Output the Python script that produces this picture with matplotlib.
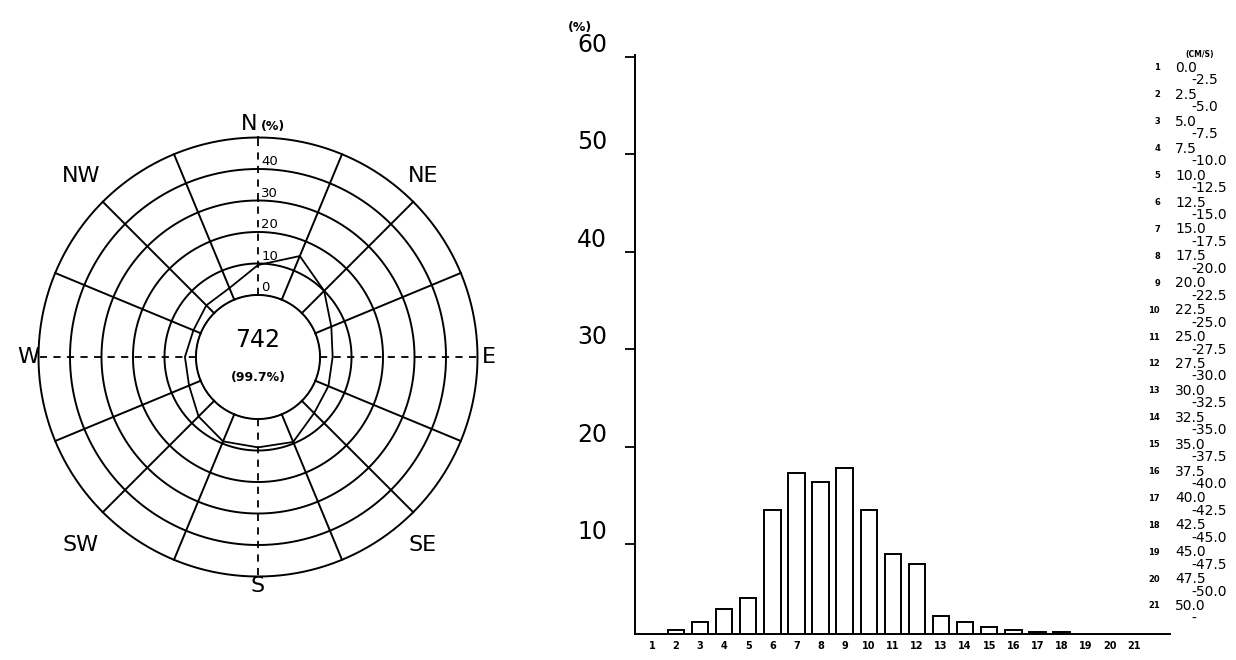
import numpy as np
import matplotlib
matplotlib.use("Agg")
import matplotlib.pyplot as plt

# ---------------- data ----------------
directions = ['N', 'NNE', 'NE', 'ENE', 'E', 'ESE', 'SE', 'SSE',
              'S', 'SSW', 'SW', 'WSW', 'W', 'WNW', 'NW', 'NNW']
dir_freq = [9.5, 15.0, 10.0, 5.5, 4.0, 4.5, 5.5, 9.5,
            9.0, 9.3, 7.0, 4.0, 3.5, 2.5, 3.5, 4.0]
ring_values = [0, 10, 20, 30, 40, 50]
ring_labels = ['0', '10', '20', '30', '40']
compass_labels = ['N', 'NE', 'E', 'SE', 'S', 'SW', 'W', 'NW']
total_count = '742'
valid_rate = '(99.7%)'

speed_classes = list(range(1, 22))
speed_freq = [0.0, 1.2, 2.0, 3.4, 4.5, 13.5, 17.3, 16.4, 17.8, 13.5, 9.0,
              8.0, 2.6, 2.0, 1.5, 1.2, 1.0, 1.0, 0.0, 0.0, 0.0]
y_ticks = [10, 20, 30, 40, 50, 60]
class_lower = ['0.0', '2.5', '5.0', '7.5', '10.0', '12.5', '15.0', '17.5',
               '20.0', '22.5', '25.0', '27.5', '30.0', '32.5', '35.0',
               '37.5', '40.0', '42.5', '45.0', '47.5', '50.0']
class_upper = ['-2.5', '-5.0', '-7.5', '-10.0', '-12.5', '-15.0', '-17.5',
               '-20.0', '-22.5', '-25.0', '-27.5', '-30.0', '-32.5', '-35.0',
               '-37.5', '-40.0', '-42.5', '-45.0', '-47.5', '-50.0', '-']
unit_label = '(CM/S)'
pct_label = '(%)'

W, H = 1236, 660
fig = plt.figure(figsize=(W / 100, H / 100), dpi=100)
fig.patch.set_facecolor('white')


def fx(px):
    return px / W


def fy(py):
    return 1 - py / H


LW = 1.4
# ---------------- wind rose ----------------
cx, cy, R = 258, 357, 219.5
r0 = 19.7
axp = fig.add_axes([fx(cx - R), fy(cy + R), 2 * R / W, 2 * R / H], projection='polar')
axp.set_theta_zero_location('N')
axp.set_theta_direction(-1)
axp.set_rorigin(-r0)
axp.set_ylim(0, 50)
axp.grid(False)
axp.set_xticks([])
axp.set_yticks([])
for s in axp.spines.values():
    s.set_visible(False)
axp.patch.set_visible(False)

th = np.linspace(0, 2 * np.pi, 721)
for rv in ring_values:
    axp.plot(th, np.full_like(th, rv), color='black', lw=LW, clip_on=False)

for i in range(16):
    t = i * np.pi / 8
    if i % 4 == 0:
        axp.plot([t, t], [0, 50], color='black', lw=1.3, ls=(0, (4, 3.5)), clip_on=False)
    else:
        axp.plot([t, t], [0, 50], color='black', lw=LW, clip_on=False)

theta_dirs = np.arange(16) * np.pi / 8
tt = np.append(theta_dirs, theta_dirs[0])
vv = np.append(dir_freq, dir_freq[0])
axp.plot(tt, vv, color='black', lw=1.3, clip_on=False)

for rv, lab in zip(ring_values, ring_labels):
    axp.annotate(lab, xy=(0, rv), xytext=(2.5, 0.5), textcoords='offset points',
                 ha='left', va='bottom', fontsize=9.5)

axp.text(0.5, 0.5 + 17 / (2 * R), total_count, transform=axp.transAxes,
         ha='center', va='center', fontsize=17)
axp.text(0.5, 0.5 - 21 / (2 * R), valid_rate, transform=axp.transAxes,
         ha='center', va='center', fontsize=9, fontweight='bold')

# compass labels (pixel positions of label centres)
label_pos = {'NE': (423, 176), 'E': (489, 357), 'SE': (423, 545),
             'S': (258, 586), 'SW': (81, 545), 'W': (28, 357), 'NW': (81, 176)}
for lab in compass_labels:
    if lab == 'N':
        fig.text(fx(257), fy(130), 'N', ha='right', va='baseline', fontsize=16)
        fig.text(fx(261), fy(130), pct_label, ha='left', va='baseline',
                 fontsize=9, fontweight='bold')
    else:
        px, py = label_pos[lab]
        fig.text(fx(px), fy(py), lab, ha='center', va='center', fontsize=16)

# ---------------- histogram ----------------
x0, x1 = 635, 1170
yb, yt = 634, 55
ax = fig.add_axes([fx(x0), fy(yb), (x1 - x0) / W, (yb - yt) / H])
ax.bar(speed_classes, speed_freq, width=0.68, facecolor='white',
       edgecolor='black', linewidth=1.4)
ax.set_xlim(0.3, 22.5)
ax.set_ylim(0.8, 60.2)
ax.spines['top'].set_visible(False)
ax.spines['right'].set_visible(False)
ax.spines['left'].set_linewidth(1.4)
ax.spines['bottom'].set_linewidth(1.4)
ax.set_yticks(y_ticks)
ax.set_yticklabels([str(v) for v in y_ticks])
ax.tick_params(axis='y', direction='out', length=7, width=1.3, pad=13, labelsize=17)
for lab in ax.get_yticklabels():
    lab.set_va('bottom')
ax.set_xticks(speed_classes)
ax.set_xticklabels([str(c) for c in speed_classes], fontsize=7, fontweight='bold')
ax.tick_params(axis='x', length=0, pad=5)

fig.text(fx(580), fy(28), pct_label, ha='center', va='center', fontsize=9, fontweight='bold')

# ---------------- class legend ----------------
row0, pitch = 68, 26.9
fig.text(fx(1200), fy(row0 - 13), unit_label, ha='center', va='center',
         fontsize=5.5, fontweight='bold')
for i, (lo, up) in enumerate(zip(class_lower, class_upper)):
    y = row0 + i * pitch
    fig.text(fx(1160), fy(y), str(speed_classes[i]), ha='right', va='center',
             fontsize=6, fontweight='bold')
    fig.text(fx(1175), fy(y), lo, ha='left', va='center', fontsize=10)
    fig.text(fx(1191), fy(y + 12.5), up, ha='left', va='center', fontsize=10)

fig.savefig('out.png', dpi=100, facecolor='white')
